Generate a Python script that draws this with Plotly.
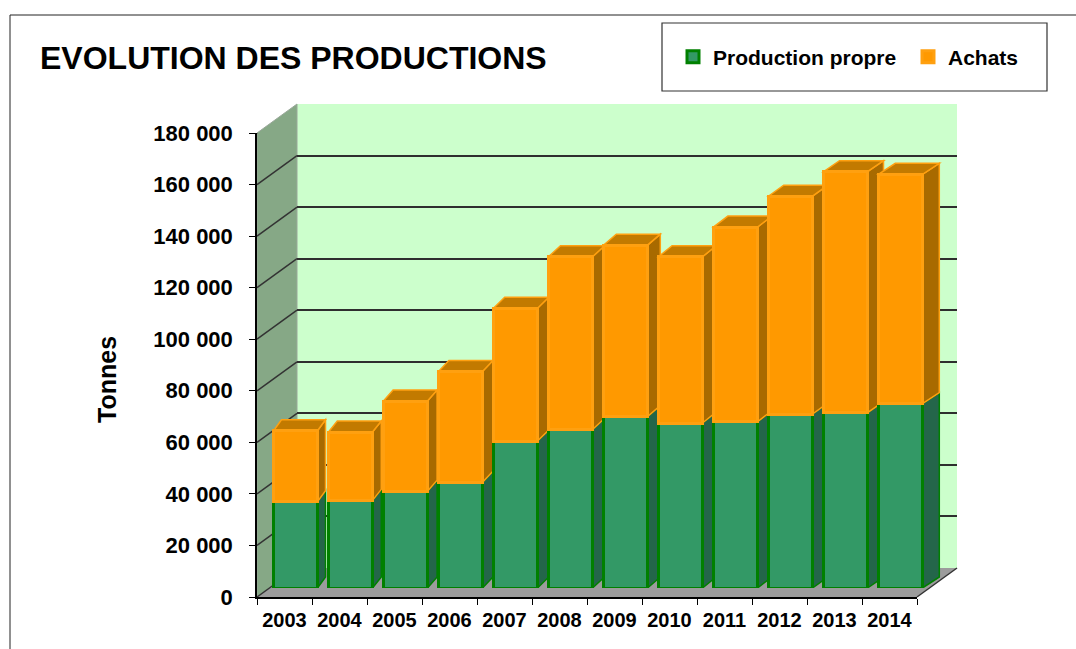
import plotly.graph_objects as go

# ---------------- data ----------------
years = ['2003', '2004', '2005', '2006', '2007', '2008', '2009', '2010', '2011', '2012', '2013', '2014']
production_propre = [33500, 34000, 37500, 41000, 57000, 61500, 66500, 64000, 64500, 67500, 68000, 71500]
achats = [27500, 26500, 35000, 43000, 51500, 67000, 66500, 64500, 75500, 84500, 93500, 89000]
y_ticks = [0, 20000, 40000, 60000, 80000, 100000, 120000, 140000, 160000, 180000]
series_names = ['Production propre', 'Achats']

# ---------------- geometry (pixels) ----------------
W, H = 1076, 649
YMAX = 180000
FONT = 'Liberation Sans, Arial, sans-serif'

def px(x):
    return x / W

def py(y):
    return 1 - y / H

# front plane (axes with ticks)
FX0, FX1, FY_TOP, FY_BOT = 257, 917, 133, 597
# back wall plane offset
DX_W, DY_W = 40, 29
# bar plane (middle depth) offset
DX_B, DY_B = 11, 9
# bar depth (side widens slightly to the right, like the perspective view)
BAR_DX_MIN, BAR_DX_STEP, BAR_DY = 8, 0.8, 11
plot_h = FY_BOT - FY_TOP
cat_w = (FX1 - FX0) / len(years)
depth_data = BAR_DY * YMAX / plot_h
half = 0.8 * cat_w / 2

GREEN, GREEN_LINE, GREEN_SIDE = '#339966', '#008000', '#24664a'
ORANGE, ORANGE_LINE, ORANGE_SIDE, ORANGE_TOP = '#ff9900', '#ffa010', '#a86a00', '#c27a00'

fig = go.Figure()

# invisible trace so that the back-wall subplot exists (drawn first)
fig.add_trace(go.Scatter(x=years, y=production_propre, xaxis='x', yaxis='y', mode='markers',
                         marker=dict(opacity=0), showlegend=False, hoverinfo='skip'))
# stacked bars on the middle-depth plane
fig.add_trace(go.Bar(x=years, y=production_propre, name=series_names[0], xaxis='x2', yaxis='y2',
                     marker=dict(color=GREEN, line=dict(color=GREEN_LINE, width=3)), hoverinfo='skip'))
fig.add_trace(go.Bar(x=years, y=achats, name=series_names[1], xaxis='x2', yaxis='y2',
                     marker=dict(color=ORANGE, line=dict(color=ORANGE_LINE, width=3)), hoverinfo='skip'))
# invisible trace so that the front category axis exists
fig.add_trace(go.Scatter(x=years, y=production_propre, xaxis='x3', yaxis='y3', mode='markers',
                         marker=dict(opacity=0), showlegend=False, hoverinfo='skip'))

shapes = []
# outer frame
shapes.append(dict(type='rect', xref='paper', yref='paper', x0=px(10), y0=py(15), x1=px(W + 20), y1=py(H + 20),
                   line=dict(color='#222', width=1), fillcolor='rgba(0,0,0,0)', layer='below'))
# back wall
shapes.append(dict(type='rect', xref='paper', yref='paper', x0=px(FX0 + DX_W), x1=px(FX1 + DX_W),
                   y0=py(FY_TOP - DY_W), y1=py(FY_BOT - DY_W), fillcolor='#ccffcc', line=dict(width=0), layer='below'))
# left wall
lw = (f'M {px(FX0)},{py(FY_TOP)} L {px(FX0 + DX_W)},{py(FY_TOP - DY_W)} '
      f'L {px(FX0 + DX_W)},{py(FY_BOT - DY_W)} L {px(FX0)},{py(FY_BOT)} Z')
shapes.append(dict(type='path', xref='paper', yref='paper', path=lw, fillcolor='#86a886',
                   line=dict(color='#9aa89a', width=1), layer='below'))
# floor
fl = (f'M {px(FX0)},{py(FY_BOT)} L {px(FX1)},{py(FY_BOT)} L {px(FX1 + DX_W)},{py(FY_BOT - DY_W)} '
      f'L {px(FX0 + DX_W)},{py(FY_BOT - DY_W)} Z')
shapes.append(dict(type='path', xref='paper', yref='paper', path=fl, fillcolor='#9c9c9c',
                   line=dict(width=0), layer='below'))
# floor right edge
shapes.append(dict(type='line', xref='paper', yref='paper', x0=px(FX1), y0=py(FY_BOT), x1=px(FX1 + DX_W),
                   y1=py(FY_BOT - DY_W), line=dict(color='#333', width=1.5), layer='below'))
# left wall diagonals at each tick
for v in y_ticks:
    shapes.append(dict(type='line', xref='paper', yref='y3', ysizemode='pixel', yanchor=v,
                       x0=px(FX0), x1=px(FX0 + DX_W), y0=0, y1=DY_W,
                       line=dict(color='#333', width=1.5), layer='below'))

# 3D faces of the bars
for i in range(len(years)):
    p = production_propre[i]
    t = production_propre[i] + achats[i]
    d = depth_data
    bdx = BAR_DX_MIN + BAR_DX_STEP * i
    side_g = f'M {half},0 L {half},{p} L {half + bdx},{p + d} L {half + bdx},{d} Z'
    side_o = f'M {half},{p} L {half},{t} L {half + bdx},{t + d} L {half + bdx},{p + d} Z'
    top_o = f'M {-half},{t} L {half},{t} L {half + bdx},{t + d} L {-half + bdx},{t + d} Z'
    for path, fc, lc in [(side_g, GREEN_SIDE, GREEN_LINE), (side_o, ORANGE_SIDE, ORANGE_LINE),
                         (top_o, ORANGE_TOP, ORANGE_LINE)]:
        shapes.append(dict(type='path', xref='x2', yref='y2', xsizemode='pixel', xanchor=i,
                           path=path, fillcolor=fc, line=dict(color=lc, width=1.5), layer='below'))

# legend box
shapes.append(dict(type='rect', xref='paper', yref='paper', x0=px(662), y0=py(23), x1=px(1047), y1=py(91),
                   line=dict(color='#333', width=1.2), fillcolor='white', layer='below'))

annotations = [
    dict(text='EVOLUTION DES PRODUCTIONS', xref='paper', yref='paper', x=px(38), y=py(58),
         xanchor='left', yanchor='middle', showarrow=False,
         font=dict(family=FONT, size=32, color='black', weight='bold')),
    dict(text='Tonnes', xref='paper', yref='paper', x=px(107), y=py(380), textangle=-90,
         xanchor='center', yanchor='middle', showarrow=False,
         font=dict(family=FONT, size=25, color='black', weight='bold')),
]

tick_font = dict(family=FONT, size=22, color='black', weight='bold')
xtick_font = dict(family=FONT, size=20, color='black', weight='bold')

fig.update_layout(
    width=W, height=H,
    margin=dict(l=0, r=0, t=0, b=0, autoexpand=False),
    paper_bgcolor='white', plot_bgcolor='rgba(0,0,0,0)',
    barmode='stack', bargap=0.2,
    separators=', ',
    shapes=shapes, annotations=annotations,
    showlegend=True,
    legend=dict(orientation='h', x=px(673), y=py(57), xanchor='left', yanchor='middle',
                bgcolor='rgba(0,0,0,0)', borderwidth=0, traceorder='normal',
                entrywidth=190, entrywidthmode='pixels',
                font=dict(family=FONT, size=21, color='black', weight='bold')),
    # back wall axes (gridlines only)
    xaxis=dict(domain=[px(FX0 + DX_W), px(FX1 + DX_W)], anchor='y', type='category',
               categoryarray=years, range=[-0.5, len(years) - 0.5],
               showgrid=False, showticklabels=False, ticks='', zeroline=False, showline=False),
    yaxis=dict(domain=[py(FY_BOT - DY_W), py(FY_TOP - DY_W)], anchor='x', range=[0, YMAX],
               tickvals=y_ticks, showgrid=True, gridcolor='#2e2e2e', gridwidth=1.6,
               showticklabels=False, ticks='', zeroline=False, showline=False),
    # bar plane axes (invisible)
    xaxis2=dict(domain=[px(FX0 + DX_B), px(FX1 + DX_B + cat_w)], anchor='y2', type='category',
                categoryarray=years, range=[-0.5, len(years) + 0.5],
                showgrid=False, showticklabels=False, ticks='', zeroline=False, showline=False),
    yaxis2=dict(domain=[py(FY_BOT - DY_B), py(FY_TOP - DY_B)], anchor='x2', range=[0, YMAX],
                showgrid=False, showticklabels=False, ticks='', zeroline=False, showline=False),
    # front axes with ticks and labels
    xaxis3=dict(domain=[px(FX0), px(FX1)], anchor='y3', type='category', categoryarray=years,
                range=[-0.5, len(years) - 0.5], showgrid=False, zeroline=False,
                showline=True, linecolor='black', linewidth=1.5,
                ticks='outside', tickson='boundaries', ticklen=6, tickcolor='black', tickwidth=1,
                tickfont=xtick_font, ticklabelstandoff=4, tickangle=0),
    yaxis3=dict(domain=[py(FY_BOT), py(FY_TOP)], anchor='x3', range=[0, YMAX], tickvals=y_ticks,
                tickformat=',d', showgrid=False, zeroline=False,
                showline=True, linecolor='black', linewidth=1.5,
                ticks='outside', ticklen=6, tickcolor='black', tickwidth=1,
                tickfont=tick_font, ticklabelstandoff=12),
)

fig.write_html('out.html', config={'displayModeBar': False},
               post_script="document.body.style.margin='0';")
